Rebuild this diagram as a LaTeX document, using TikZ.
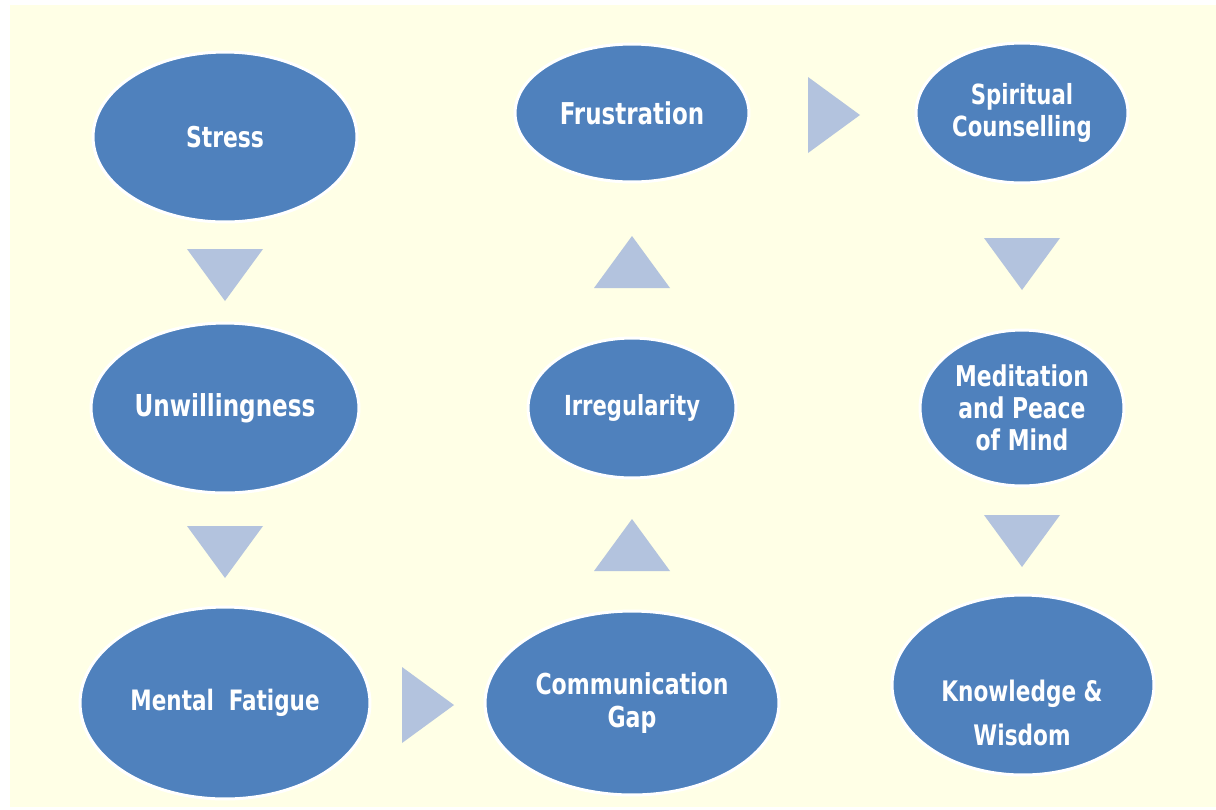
\documentclass[tikz,border=0pt]{standalone}
\usepackage{fontspec}
\setmainfont[FakeStretch=0.85]{DejaVu Sans Condensed}
\usetikzlibrary{shapes.geometric}
\definecolor{bubblefill}{HTML}{4F81BD}
\definecolor{arrowfill}{HTML}{B3C3DE}
\definecolor{paper}{HTML}{FFFFE6}
\tikzset{
	bubble/.style n args={3}{ellipse, fill=bubblefill, draw=white, line width=1.7pt,
		inner sep=0pt, minimum width={#1*0.04cm}, minimum height={#2*0.04cm},
		text=white, align=center, font=\bfseries\fontsize{#3}{18.3}\selectfont},
}

\begin{document}
\begin{tikzpicture}[x=0.02cm,y=-0.02cm]
		\useasboundingbox (0,0) rectangle (1216,809);
		\fill[paper] (10,5) rectangle (1216,807);
		% left column
		\node[bubble={132}{85}{16.3}] (stress) at (225,137) {Stress};
		\node[bubble={134}{85}{17.2}] (unwill) at (225,408) {Unwillingness};
		\node[bubble={145}{96}{16}] (fatigue) at (225,703) {Mental~ Fatigue};
		% middle column
		\node[bubble={147}{92}{16.4}] (gap) at (632,703) {Communication\\Gap};
		\node[bubble={104}{70}{15.7}] (irreg) at (632,408) {Irregularity};
		\node[bubble={117}{69}{17.1}] (frust) at (632,113) {Frustration};
		% right column
		\node[bubble={106}{70}{15.8}] (spirit) at (1022,113) {Spiritual\\[-0.5pt]Counselling};
		\node[bubble={102}{78}{16.3}] (medit) at (1022,408) {Meditation\\and Peace\\of Mind};
		\node[bubble={131}{90}{16.1}] (wisdom) at (1023,685) {};
		\node[text=white, align=center, font=\bfseries\fontsize{16.1}{18.3}\selectfont]
			(wisdomtext) at (1022,713) {Knowledge \&\\[0.25cm]Wisdom};
		% triangles
		\foreach \cx/\cy in {225/275, 225/552, 1022/264, 1022/541}
		\fill[arrowfill] (\cx-38,\cy-26) -- (\cx+38,\cy-26) -- (\cx,\cy+26) -- cycle;
		\foreach \cx/\cy in {632/262, 632/545}
		\fill[arrowfill] (\cx-38,\cy+26) -- (\cx+38,\cy+26) -- (\cx,\cy-26) -- cycle;
		\foreach \cx/\cy in {428/705, 834/115}
		\fill[arrowfill] (\cx-26,\cy-38) -- (\cx-26,\cy+38) -- (\cx+26,\cy) -- cycle;
	\end{tikzpicture}
\end{document}
